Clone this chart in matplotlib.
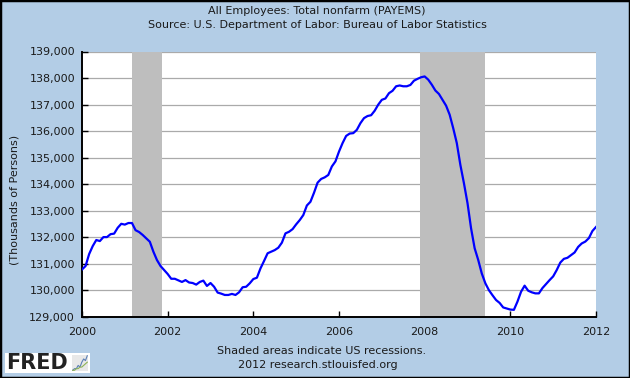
import numpy as np
import matplotlib
matplotlib.use("Agg")
import matplotlib.pyplot as plt
from matplotlib.patches import Rectangle

# monthly values, thousands of persons
y2000 = [130790, 130920, 131370, 131670, 131900, 131860, 132010, 132010, 132120, 132140, 132360, 132510]
y2001 = [132480, 132540, 132540, 132270, 132200, 132090, 131960, 131835, 131460, 131145, 130920, 130770]
y2002 = [130620, 130440, 130440, 130380, 130320, 130390, 130300, 130280, 130220, 130320, 130370, 130170]
y2003 = [130280, 130140, 129920, 129880, 129830, 129830, 129870, 129830, 129930, 130120, 130140, 130270]
y2004 = [130430, 130480, 130830, 131110, 131400, 131460, 131520, 131610, 131800, 132150, 132210, 132310]
y2005 = [132490, 132650, 132840, 133200, 133340, 133680, 134060, 134200, 134260, 134350, 134670, 134860]
y2006 = [135230, 135550, 135820, 135910, 135925, 136050, 136300, 136490, 136570, 136600, 136770, 137000]
y2007 = [137180, 137230, 137430, 137520, 137690, 137720, 137690, 137690, 137740, 137900, 137970, 138030]
y2008 = [138060, 137940, 137750, 137530, 137400, 137180, 136960, 136620, 136110, 135550, 134730, 134040]
y2009 = [133290, 132340, 131590, 131150, 130640, 130270, 130010, 129820, 129640, 129530, 129360, 129320]
y2010 = [129280, 129270, 129580, 129950, 130180, 129990, 129930, 129890, 129890, 130090, 130240, 130390]
y2011 = [130530, 130770, 131050, 131190, 131230, 131330, 131430, 131640, 131770, 131840, 131970, 132240]
y2012 = [132390]

recessions = [(2001.17, 2001.87), (2007.89, 2009.41)]
y_ticks = [129000, 130000, 131000, 132000, 133000, 134000, 135000, 136000, 137000, 138000, 139000]
x_ticks = [2000, 2002, 2004, 2006, 2008, 2010, 2012]

# little sparkline in the logo
icon_blue = [1, 2, 2, 4, 3, 6, 8, 7, 10]
icon_green = [1, 1, 2, 2, 3, 3, 4, 5, 6]

values = y2000 + y2001 + y2002 + y2003 + y2004 + y2005 + y2006 + y2007 + y2008 + y2009 + y2010 + y2011 + y2012
dates = 2000 + np.arange(len(values)) / 12

W, H = 630, 378
BG = "#B3CDE6"
TXT = "#1a1a1a"
FS = 8.0

plt.rcParams["font.family"] = "DejaVu Sans"
fig = plt.figure(figsize=(W / 100, H / 100), dpi=100, facecolor=BG)
ax = fig.add_axes([82 / W, 1 - 317 / H, (596 - 82) / W, (317 - 51.5) / H])

for y in y_ticks:
    ax.axhline(y, color="#AAAAAA", linewidth=0.9, zorder=1)
for start, end in recessions:
    ax.axvspan(start, end, color="#BEBEBE", linewidth=0, zorder=2)
ax.plot(dates, values, color="#0000FF", linewidth=1.6, zorder=3)

ax.set_xlim(2000, 2012)
ax.set_ylim(129000, 139000)
ax.set_xticks(x_ticks)
ax.set_yticks(y_ticks)
ax.set_yticklabels([f"{v:,}" for v in y_ticks])
ax.tick_params(direction="in", length=4, width=1, color="black", labelsize=FS, labelcolor=TXT)
ax.tick_params(axis="y", pad=5)
ax.tick_params(axis="x", pad=7)
ax.spines["top"].set_visible(False)
ax.spines["right"].set_visible(False)
ax.spines["left"].set_linewidth(1.4)
ax.spines["bottom"].set_linewidth(1.4)
ax.set_ylabel("(Thousands of Persons)", fontsize=FS, color=TXT)
ax.yaxis.set_label_coords((20 - 82) / 514, (317 - 200) / 265.5)

fig.text(317 / W, 1 - 11 / H, "All Employees: Total nonfarm (PAYEMS)", ha="center", va="center", fontsize=FS, color=TXT)
fig.text(317 / W, 1 - 25 / H, "Source: U.S. Department of Labor: Bureau of Labor Statistics", ha="center", va="center", fontsize=FS, color=TXT)
fig.text(321.5 / W, 1 - 351 / H, "Shaded areas indicate US recessions.", ha="center", va="center", fontsize=FS, color=TXT)
fig.text(318 / W, 1 - 365.5 / H, "2012 research.stlouisfed.org", ha="center", va="center", fontsize=FS, color=TXT)

# logo box
fig.add_artist(Rectangle((5 / W, 1 - 372.5 / H), 85 / W, 19.5 / H, transform=fig.transFigure, facecolor="white", edgecolor="none"))
fig.text(6.5 / W, 1 - 363 / H, "FRED", ha="left", va="center", fontsize=15, fontweight="bold", color="#222222")
icon = fig.add_axes([72 / W, 1 - 371 / H, 16 / W, 16 / H], facecolor="#E8E8E8", zorder=5)
icon.plot(icon_blue, color="#5B7FB5", linewidth=0.8)
icon.plot(icon_green, color="#8DB255", linewidth=0.8)
icon.set_xticks([])
icon.set_yticks([])
for side in icon.spines.values():
    side.set_visible(False)

# outer border
fig.add_artist(Rectangle((0, 0), 1, 1, transform=fig.transFigure, facecolor="none", edgecolor="black", linewidth=2.5))

fig.savefig("out.png", dpi=100, facecolor=BG)
